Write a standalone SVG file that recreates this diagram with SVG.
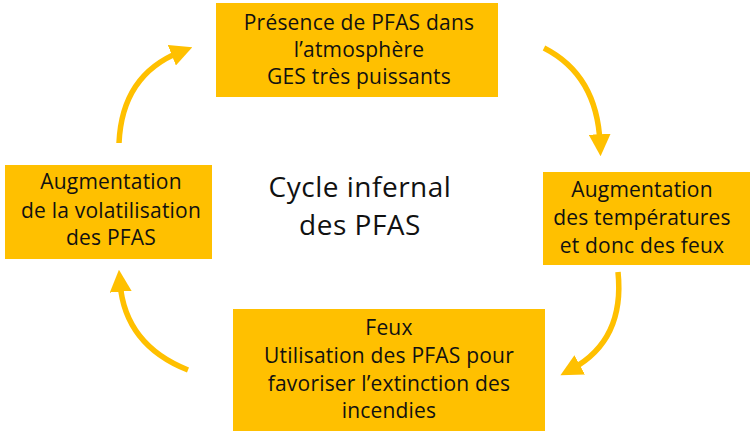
<svg xmlns="http://www.w3.org/2000/svg" width="754" height="444" viewBox="0 0 754 444">
<defs>
<style>
.box{fill:#FFC000;}
.t{font-family:"Open Sans","Liberation Sans",Arial,sans-serif;font-size:21px;letter-spacing:0.2px;fill:#111111;text-anchor:middle;}
.c{font-family:"Open Sans","Liberation Sans",Arial,sans-serif;font-size:28px;letter-spacing:0.5px;fill:#111111;text-anchor:middle;}
.arr{fill:none;stroke:#FFC000;stroke-width:5.5;marker-end:url(#ah);}
</style>
<marker id="ah" markerWidth="4" markerHeight="4" refX="1.6" refY="2" orient="auto" markerUnits="strokeWidth" viewBox="0 0 4 4">
<path d="M0,0 L4,2 L0,4 Z" fill="#FFC000"/>
</marker>
</defs>
<rect width="754" height="444" fill="#ffffff"/>
<g id="n_top">
<rect class="box" x="216" y="3" width="282" height="94"/>
<text class="t" x="359" y="30">Présence de PFAS dans</text>
<text class="t" x="359" y="57">l’atmosphère</text>
<text class="t" x="359" y="84">GES très puissants</text>
</g>
<g id="n_right">
<rect class="box" x="543" y="172" width="207" height="93"/>
<text class="t" x="642" y="197">Augmentation</text>
<text class="t" x="642" y="225">des températures</text>
<text class="t" x="642" y="253">et donc des feux</text>
</g>
<g id="n_bottom">
<rect class="box" x="233" y="309" width="312" height="122"/>
<text class="t" x="389" y="335">Feux</text>
<text class="t" x="389" y="363">Utilisation des PFAS pour</text>
<text class="t" x="389" y="391">favoriser l’extinction des</text>
<text class="t" x="389" y="418">incendies</text>
</g>
<g id="n_left">
<rect class="box" x="5" y="165" width="207" height="94"/>
<text class="t" x="111" y="189">Augmentation</text>
<text class="t" x="111" y="218">de la volatilisation</text>
<text class="t" x="111" y="245">des PFAS</text>
</g>
<g id="n_center">
<text class="c" x="360" y="197">Cycle infernal</text>
<text class="c" x="360" y="235">des PFAS</text>
</g>
<g id="connectors">
<path class="arr" d="M119,143 Q122,75 180,52"/>
<path class="arr" d="M544,48 Q597,75 600,143"/>
<path class="arr" d="M618,272 Q625,340 572,369"/>
<path class="arr" d="M188,370 Q125,345 120,283"/>
</g>
</svg>
